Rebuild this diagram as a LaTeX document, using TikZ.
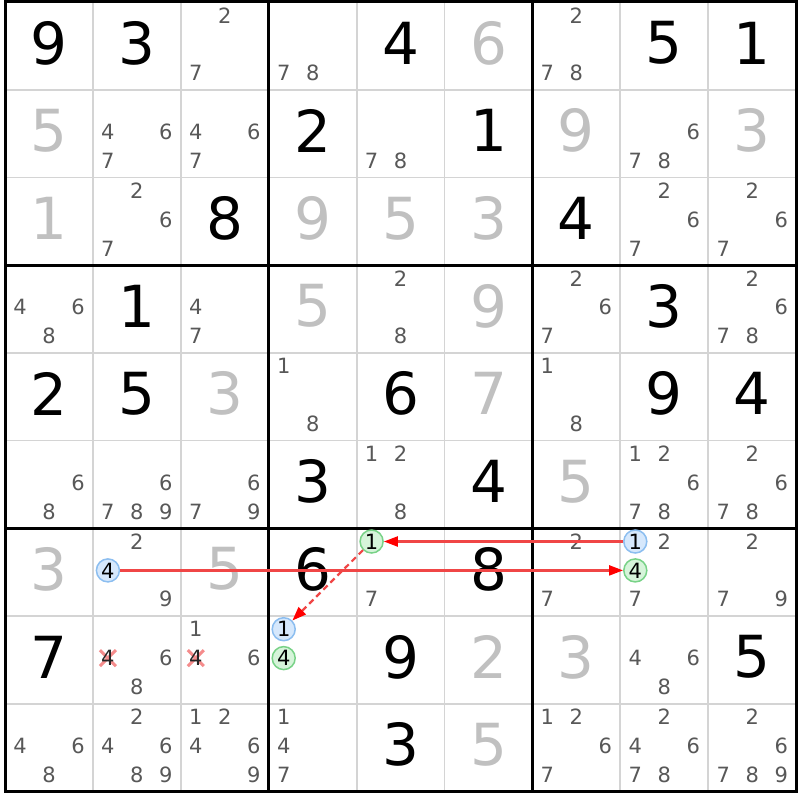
\documentclass[tikz,border=0pt]{standalone}
\usepackage{fontspec}
\setmainfont{DejaVu Sans}
\usetikzlibrary{arrows.meta}
\definecolor{gridgray}{RGB}{212,212,212}
\definecolor{candgray}{RGB}{88,88,88}
\definecolor{solgray}{RGB}{192,192,192}
\definecolor{hlblue}{RGB}{214,232,252}
\definecolor{hlbluedraw}{RGB}{140,190,240}
\definecolor{hlgreen}{RGB}{214,244,218}
\definecolor{hlgreendraw}{RGB}{120,210,135}
\definecolor{linkred}{RGB}{240,70,70}
\definecolor{crossred}{RGB}{245,140,140}
\tikzset{
  given/.style={font=\fontsize{58}{58}\selectfont, text=black, inner sep=0pt},
  solved/.style={given, text=solgray},
  cand/.style={font=\fontsize{21}{21}\selectfont, text=candgray, inner sep=0pt},
  hlb/.style={cand, text=black, circle, minimum size=23pt, fill=hlblue, draw=hlbluedraw, line width=1.5pt},
  hlg/.style={hlb, fill=hlgreen, draw=hlgreendraw},
  crossed/.style={cand, text=black!85},
  crossline/.style={draw=crossred, line width=3pt},
  link/.style={draw=linkred, line width=2.2pt, -{Triangle[length=14pt,width=10pt,color=red]}},
  weaklink/.style={link, dash pattern=on 6pt off 4pt},
  gridline/.style={draw=gridgray, line width=1.8pt},
  boxline/.style={draw=black, line width=3pt},
}
\newcommand\Val[4]{%
  \pgfmathsetmacro\vx{5+(#2-1)*87.9+44}%
  \pgfmathsetmacro\vy{2+(#1-1)*87.7+41}%
  \node[#4] (v#1#2) at (\vx,\vy) {#3};}
\newcommand\Cand[3]{%
  \foreach \d in {#3}{%
    \pgfmathtruncatemacro\cc{mod(\d-1,3)}%
    \pgfmathtruncatemacro\rr{(\d-1)/3}%
    \pgfmathsetmacro\px{5+(#2-1)*87.9+15+\cc*29}%
    \pgfmathsetmacro\py{2+(#1-1)*87.7+13.3+\rr*28.9}%
    \node[cand] (c#1#2\d) at (\px,\py) {\d};}}
\newcommand\Hl[4]{%
  \pgfmathtruncatemacro\cc{mod(#4-1,3)}%
  \pgfmathtruncatemacro\rr{(#4-1)/3}%
  \pgfmathsetmacro\px{5+(#3-1)*87.9+15+\cc*29}%
  \pgfmathsetmacro\py{2+(#2-1)*87.7+13.3+\rr*28.9}%
  \node[#1] (h#2#3#4) at (\px,\py) {#4};}
\newcommand\Crossed[3]{%
  \pgfmathtruncatemacro\cc{mod(#3-1,3)}%
  \pgfmathtruncatemacro\rr{(#3-1)/3}%
  \pgfmathsetmacro\px{5+(#2-1)*87.9+15+\cc*29}%
  \pgfmathsetmacro\py{2+(#1-1)*87.7+13.3+\rr*28.9}%
  \draw[crossline] (\px-8,\py-8) -- (\px+8,\py+8);
  \draw[crossline] (\px-8,\py+8) -- (\px+8,\py-8);
  \node[crossed] (x#1#2#3) at (\px,\py) {#3};}
\begin{document}
\begin{tikzpicture}[x=1pt,y=-1pt]
\useasboundingbox (0,0) rectangle (800,800);
\fill[white] (0,0) rectangle (800,800);
% grid
\foreach \i in {1,...,8}{
  \draw[gridline] ({5+\i*87.9},2) -- ({5+\i*87.9},791);
  \draw[gridline] (5,{2+\i*87.7}) -- (796,{2+\i*87.7});
}
\foreach \i in {1,2}{
  \draw[boxline] ({5+\i*263.7},2) -- ({5+\i*263.7},791);
  \draw[boxline] (5,{2+\i*263.1}) -- (796,{2+\i*263.1});
}
\draw[boxline] (5,2) rectangle (796,791);
% values
\Val11{9}{given}\Val12{3}{given}\Val15{4}{given}\Val16{6}{solved}\Val18{5}{given}\Val19{1}{given}
\Val21{5}{solved}\Val24{2}{given}\Val26{1}{given}\Val27{9}{solved}\Val29{3}{solved}
\Val31{1}{solved}\Val33{8}{given}\Val34{9}{solved}\Val35{5}{solved}\Val36{3}{solved}\Val37{4}{given}
\Val42{1}{given}\Val44{5}{solved}\Val46{9}{solved}\Val48{3}{given}
\Val51{2}{given}\Val52{5}{given}\Val53{3}{solved}\Val55{6}{given}\Val56{7}{solved}\Val58{9}{given}\Val59{4}{given}
\Val64{3}{given}\Val66{4}{given}\Val67{5}{solved}
\Val71{3}{solved}\Val73{5}{solved}\Val74{6}{given}\Val76{8}{given}
\Val81{7}{given}\Val85{9}{given}\Val86{2}{solved}\Val87{3}{solved}\Val89{5}{given}
\Val95{3}{given}\Val96{5}{solved}
% candidates
\Cand13{2,7}\Cand14{7,8}\Cand17{2,7,8}
\Cand22{4,6,7}\Cand23{4,6,7}\Cand25{7,8}\Cand28{6,7,8}
\Cand32{2,6,7}\Cand38{2,6,7}\Cand39{2,6,7}
\Cand41{4,6,8}\Cand43{4,7}\Cand45{2,8}\Cand47{2,6,7}\Cand49{2,6,7,8}
\Cand54{1,8}\Cand57{1,8}
\Cand61{6,8}\Cand62{6,7,8,9}\Cand63{6,7,9}\Cand65{1,2,8}\Cand68{1,2,6,7,8}\Cand69{2,6,7,8}
\Cand72{2,9}\Cand75{7}\Cand77{2,7}\Cand78{2,7}\Cand79{2,7,9}
\Cand82{6,8}\Cand83{1,6}\Cand88{4,6,8}
\Cand91{4,6,8}\Cand92{2,4,6,8,9}\Cand93{1,2,4,6,9}\Cand94{1,4,7}\Cand97{1,2,6,7}\Cand98{2,4,6,7,8}\Cand99{2,6,7,8,9}
% eliminations
\Crossed824
\Crossed834
% highlighted candidates
\Hl{hlb}724
\Hl{hlb}781
\Hl{hlg}784
\Hl{hlg}751
\Hl{hlb}841
\Hl{hlg}844
% links
\draw[link] (h724) -- (h784);
\draw[link] (h781) -- (h751);
\draw[weaklink] (h751) -- (h841);
\end{tikzpicture}
\end{document}
